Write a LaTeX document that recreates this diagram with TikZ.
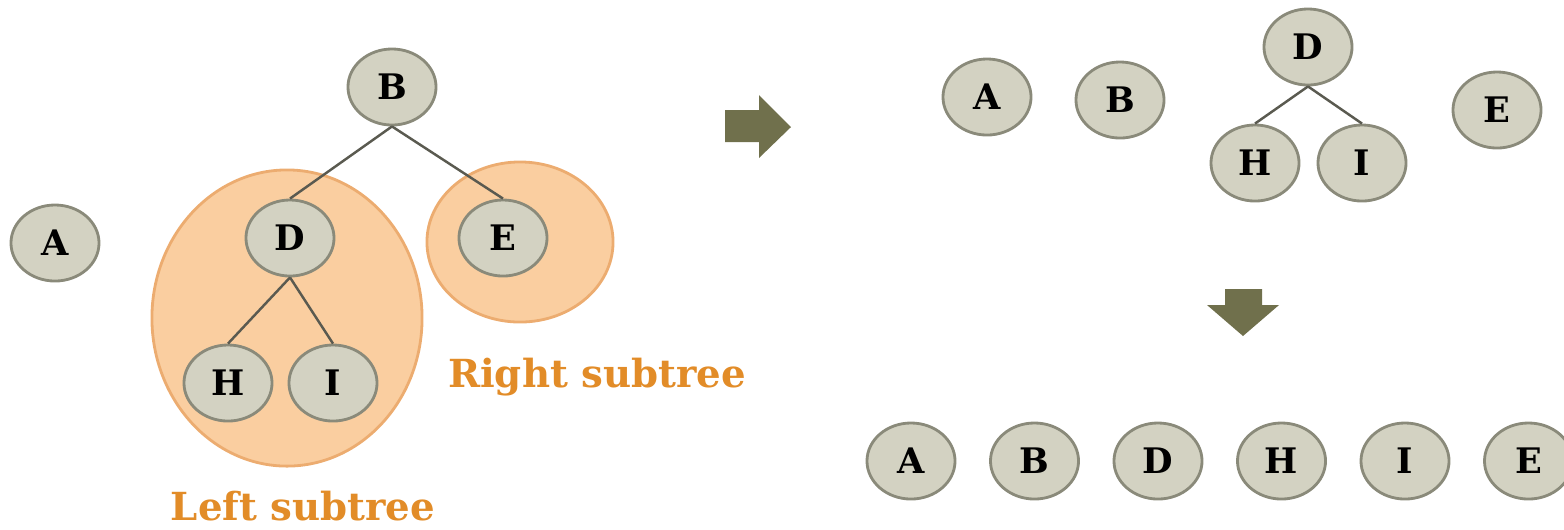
\documentclass[tikz,border=0pt]{standalone}
\usepackage{fontspec}
\setmainfont{DejaVu Serif}
\usetikzlibrary{shapes.geometric}

\definecolor{keyfill}{RGB}{211,210,194}
\definecolor{keyline}{RGB}{138,138,122}
\definecolor{subfill}{RGB}{250,206,160}
\definecolor{subline}{RGB}{236,172,112}
\definecolor{subtext}{RGB}{226,140,40}
\definecolor{stepfill}{RGB}{112,112,76}
\definecolor{edgecol}{RGB}{90,90,80}

\tikzset{
  key/.style={ellipse, draw=keyline, fill=keyfill, line width=0.8pt,
    minimum width=0.88cm, minimum height=0.76cm, inner sep=0pt,
    font=\fontsize{10}{10}\selectfont\bfseries},
  subtree/.style={draw=subline, fill=subfill, line width=0.8pt},
  sublabel/.style={text=subtext, font=\fontsize{11}{13}\selectfont\bfseries},
  link/.style={draw=edgecol, line width=0.7pt},
  stepmark/.style={fill=stepfill}
}

\begin{document}
\begin{tikzpicture}[x=0.01cm, y=-0.01cm]
  \useasboundingbox (0,0) rectangle (1564,529);

  % subtrees behind the tree
  \draw[subtree] (287,318) ellipse [x radius=1.35cm, y radius=1.48cm];
  \draw[subtree] (520,242) ellipse [x radius=0.93cm, y radius=0.80cm];

  % left: the tree before splitting
  \node[key] (a0) at (55,243) {A};
  \node[key] (b0) at (392,87) {B};
  \node[key] (d0) at (290,238) {D};
  \node[key] (e0) at (503,238) {E};
  \node[key] (h0) at (228,383) {H};
  \node[key] (i0) at (333,383) {I};
  \draw[link] (b0.south) -- (d0.north);
  \draw[link] (b0.south) -- (e0.north);
  \draw[link] (d0.south) -- (h0.north);
  \draw[link] (d0.south) -- (i0.north);

  \node[sublabel] (rlabel) at (597,377) {Right subtree};
  \node[sublabel] (llabel) at (303,506) {Left subtree};

  % step arrows
  \fill[stepmark] (725,110) -- (759,110) -- (759,95) -- (791,127)
    -- (759,158) -- (759,142) -- (725,142) -- cycle;
  \fill[stepmark] (1225,289) -- (1262,289) -- (1262,305) -- (1279,305)
    -- (1243,336) -- (1207,305) -- (1225,305) -- cycle;

  % top right: root and left part split off
  \node[key] (a1) at (987,97) {A};
  \node[key] (b1) at (1120,100) {B};
  \node[key] (d1) at (1308,47) {D};
  \node[key] (h1) at (1255,163) {H};
  \node[key] (i1) at (1362,163) {I};
  \node[key] (e1) at (1497,110) {E};
  \draw[link] (d1.south) -- (h1.north);
  \draw[link] (d1.south) -- (i1.north);

  % bottom right: final order
  \foreach \k/\t [count=\n from 0] in {a/A,b/B,d/D,h/H,i/I,e/E}
    \node[key] (\k2) at (911+123.5*\n,461) {\t};
\end{tikzpicture}
\end{document}
